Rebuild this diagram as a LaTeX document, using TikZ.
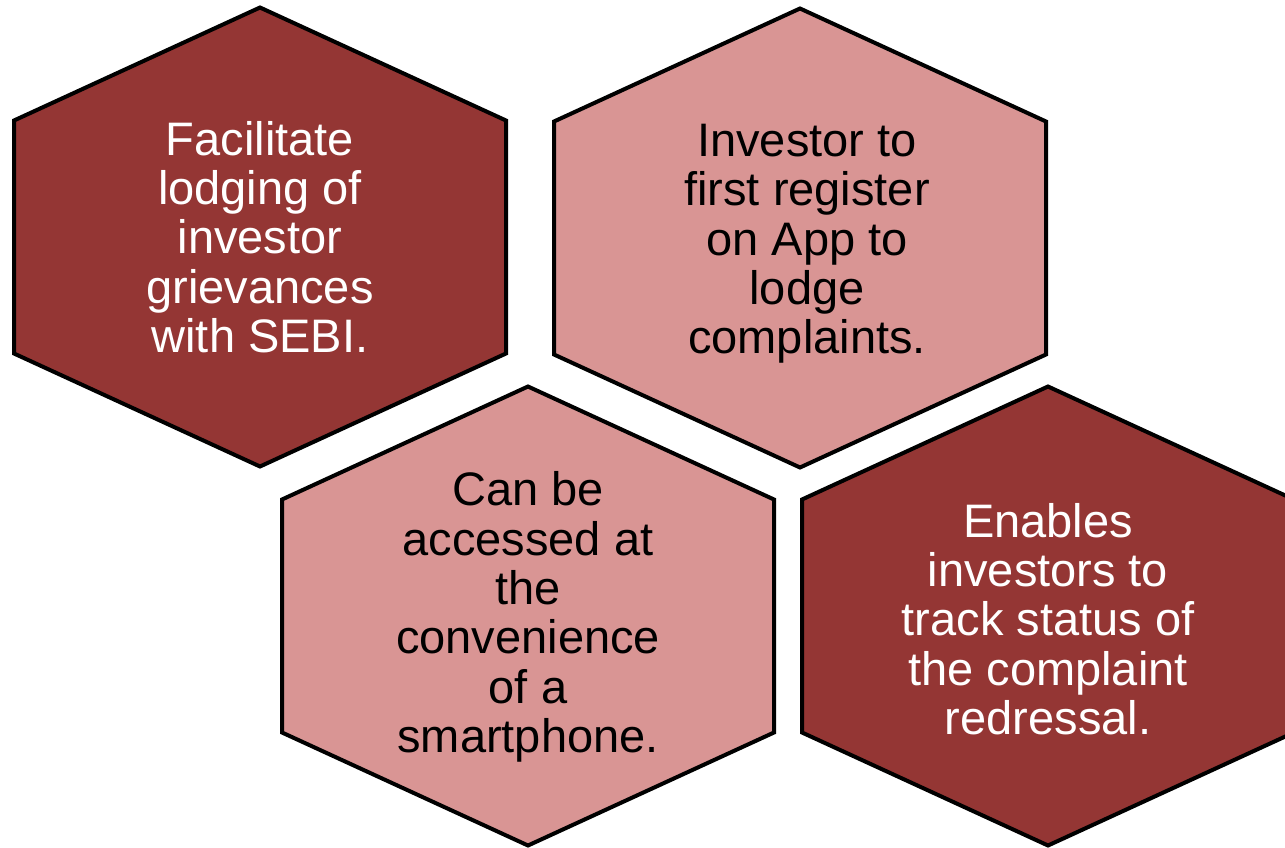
\documentclass[tikz,border=0pt]{standalone}
\usepackage{fontspec}
\setmainfont{Liberation Sans}
\usepackage{xcolor}
\definecolor{cellDark}{HTML}{943634}
\definecolor{cellLight}{HTML}{D99594}

\begin{document}
\begin{tikzpicture}[x=1pt,y=-1pt,
    cell/.style={draw=black, line width=4pt},
    celltext/.style={align=center, inner sep=0pt, font=\fontsize{47}{49.3}\selectfont}]
    \useasboundingbox (0,0) rectangle (1285,848);
    \clip (0,0) rectangle (1285,848);
    % Hexagons: centre x / centre y / text shift x / text shift y / fill / text colour / name / text
    \foreach \cx/\cy/\dx/\dy/\fc/\tc/\nm/\txt in {
        260/237/0/0/cellDark/white/lodge/{Facilitate\\lodging of\\investor\\grievances\\with SEBI.},
        800/238/7/6/cellLight/black/register/{Investor to\\first register\\on App to\\lodge\\complaints.},
        528/616/0/1/cellLight/black/access/{Can be\\accessed at\\the\\convenience\\of a\\smartphone.},
        1048/616/0/3/cellDark/white/track/{Enables\\investors to\\track status of\\the complaint\\redressal.}} {
        \draw[cell, fill=\fc] (\cx,\cy-229.5) -- (\cx+246,\cy-116.5) -- (\cx+246,\cy+116.5)
            -- (\cx,\cy+229.5) -- (\cx-246,\cy+116.5) -- (\cx-246,\cy-116.5) -- cycle;
        \node[celltext, text=\tc] (\nm) at (\cx+\dx,\cy+\dy) {\txt};
    }
\end{tikzpicture}
\end{document}
